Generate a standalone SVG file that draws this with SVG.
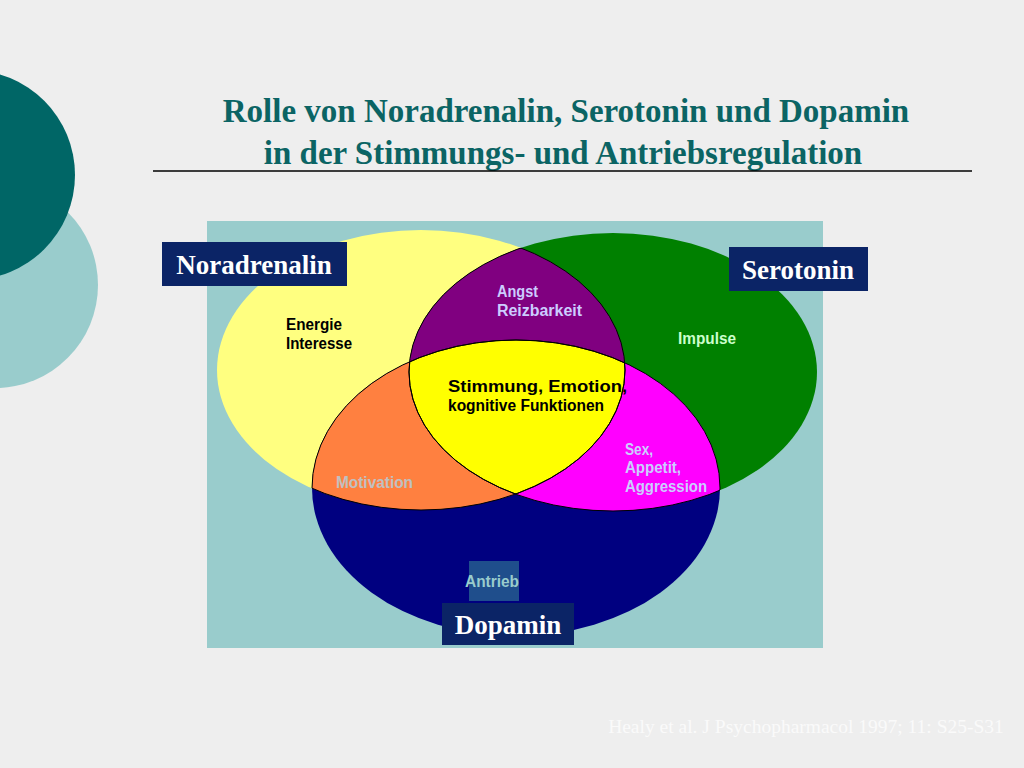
<svg xmlns="http://www.w3.org/2000/svg" width="1024" height="768" viewBox="0 0 1024 768">
<style>
.t{font-family:"Liberation Serif",serif;font-weight:bold;font-size:33px;fill:#0B6464;text-anchor:middle}
.lb{font-family:"Liberation Serif",serif;font-weight:bold;font-size:27px;fill:#fff;text-anchor:middle}
.s{font-family:"Liberation Sans",Arial,sans-serif;font-weight:bold;font-size:16px}
.bx{fill:#0B2466}
.o{fill:none;stroke:#000;stroke-width:1}
</style>
<defs>
<clipPath id="cA"><ellipse cx="421" cy="370" rx="204" ry="140"/></clipPath>
<clipPath id="cB"><ellipse cx="613" cy="372" rx="204" ry="139"/></clipPath>
<clipPath id="cC"><ellipse cx="516" cy="488" rx="204" ry="148"/></clipPath>
</defs>
<rect width="1024" height="768" fill="#EEEEEE"/>
<circle cx="-5" cy="285" r="103" fill="#99CCCC"/>
<circle cx="-30" cy="175" r="105" fill="#006666"/>
<text class="t" x="566" y="122">Rolle von Noradrenalin, Serotonin und Dopamin</text>
<text class="t" x="563" y="164">in der Stimmungs- und Antriebsregulation</text>
<line x1="153" y1="171" x2="972" y2="171" stroke="#000" stroke-width="1.5"/>
<rect x="207" y="221" width="616" height="427" fill="#99CCCC"/>
<g id="venn">
<ellipse cx="421" cy="370" rx="204" ry="140" fill="#FFFF80"/>
<ellipse cx="613" cy="372" rx="204" ry="139" fill="#008000"/>
<ellipse cx="516" cy="488" rx="204" ry="148" fill="#000080"/>
<g clip-path="url(#cA)"><ellipse cx="613" cy="372" rx="204" ry="139" fill="#800080"/><ellipse cx="516" cy="488" rx="204" ry="148" fill="#FF8040"/></g>
<g clip-path="url(#cB)"><ellipse cx="516" cy="488" rx="204" ry="148" fill="#FF00FF"/></g>
<g clip-path="url(#cA)"><g clip-path="url(#cB)"><ellipse cx="516" cy="488" rx="204" ry="148" fill="#FFFF00"/></g></g>
<g clip-path="url(#cA)"><ellipse class="o" cx="613" cy="372" rx="204" ry="139"/><ellipse class="o" cx="516" cy="488" rx="204" ry="148"/></g>
<g clip-path="url(#cB)"><ellipse class="o" cx="421" cy="370" rx="204" ry="140"/><ellipse class="o" cx="516" cy="488" rx="204" ry="148"/></g>
<g clip-path="url(#cC)"><ellipse class="o" cx="421" cy="370" rx="204" ry="140"/><ellipse class="o" cx="613" cy="372" rx="204" ry="139"/></g>
</g>
<g id="texts">
<text class="s" x="286" y="330" fill="#000" textLength="56" lengthAdjust="spacingAndGlyphs">Energie</text>
<text class="s" x="286" y="349" fill="#000" textLength="66" lengthAdjust="spacingAndGlyphs">Interesse</text>
<text class="s" x="497" y="297" fill="#CCCCFF" textLength="41" lengthAdjust="spacingAndGlyphs">Angst</text>
<text class="s" x="497" y="316" fill="#CCCCFF" textLength="85" lengthAdjust="spacingAndGlyphs">Reizbarkeit</text>
<text class="s" x="678" y="344" fill="#CCFFCC" textLength="58" lengthAdjust="spacingAndGlyphs">Impulse</text>
<text class="s" x="448" y="392" fill="#000" textLength="179" lengthAdjust="spacingAndGlyphs">Stimmung, Emotion,</text>
<text class="s" x="448" y="411" fill="#000" textLength="156" lengthAdjust="spacingAndGlyphs">kognitive Funktionen</text>
<text class="s" x="336" y="488" fill="#C0C0C0" textLength="77" lengthAdjust="spacingAndGlyphs">Motivation</text>
<text class="s" x="625" y="455" fill="#CCCCFF" textLength="28" lengthAdjust="spacingAndGlyphs">Sex,</text>
<text class="s" x="625" y="473" fill="#CCCCFF" textLength="56" lengthAdjust="spacingAndGlyphs">Appetit,</text>
<text class="s" x="625" y="492" fill="#CCCCFF" textLength="82" lengthAdjust="spacingAndGlyphs">Aggression</text>
<rect x="469" y="561" width="50" height="40" fill="#1F4E8C"/>
<text class="s" x="465" y="587" fill="#99CCCC" textLength="54" lengthAdjust="spacingAndGlyphs">Antrieb</text>
</g>
<g id="noradrenalin"><rect class="bx" x="162" y="242" width="185" height="44"/><text class="lb" x="254" y="274">Noradrenalin</text></g>
<g id="serotonin"><rect class="bx" x="729" y="247" width="139" height="44"/><text class="lb" x="798" y="279">Serotonin</text></g>
<g id="dopamin"><rect class="bx" x="442" y="603" width="132" height="42"/><text class="lb" x="508" y="634">Dopamin</text></g>
<text x="806" y="733" font-family="Liberation Serif,serif" font-size="19.5" fill="#FAFAFA" text-anchor="middle">Healy et al. J Psychopharmacol 1997; 11: S25-S31</text>
</svg>
